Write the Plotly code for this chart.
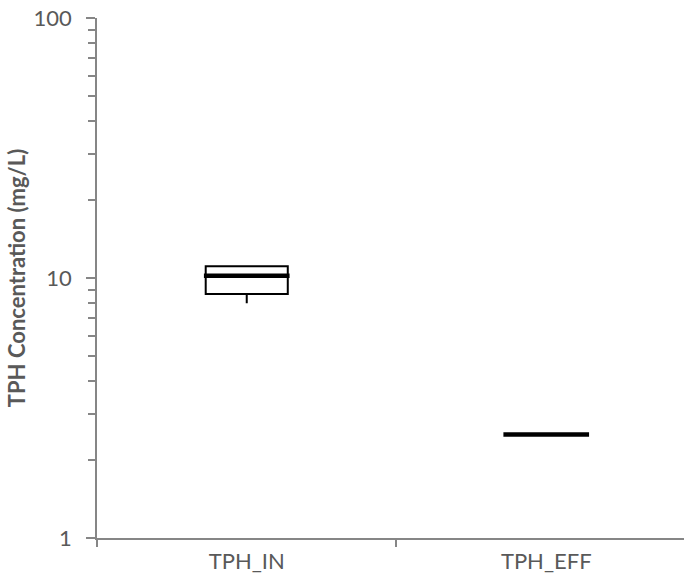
import plotly.graph_objects as go

# Summary statistics of TPH concentration (mg/L) at inlet and effluent
categories = ["TPH_IN", "TPH_EFF"]
q1_vals = [8.68, 2.5]
median_vals = [10.2, 2.5]
q3_vals = [11.1, 2.5]
low_vals = [8.0, 2.5]
high_vals = [11.1, 2.5]

axis_grey = "#868686"
text_grey = "#595959"
font_family = "Lato, 'Open Sans', sans-serif"

box_width = 0.274
median_half = 0.143

fig = go.Figure()
fig.add_trace(go.Box(
    x=categories,
    q1=q1_vals,
    median=median_vals,
    q3=q3_vals,
    lowerfence=low_vals,
    upperfence=high_vals,
    width=box_width,
    whiskerwidth=0,
    fillcolor="white",
    line=dict(color="black", width=2),
    boxpoints=False,
    showlegend=False,
    hoverinfo="skip",
))

# Heavy median bars drawn over each box
for i, m in enumerate(median_vals):
    fig.add_shape(
        type="line", xref="x", yref="y",
        x0=i - median_half, x1=i + median_half, y0=m, y1=m,
        line=dict(color="black", width=4.5), layer="above",
    )

fig.update_layout(
    width=684, height=588,
    margin=dict(l=97, r=0, t=18, b=50),
    paper_bgcolor="white", plot_bgcolor="white",
    font=dict(family=font_family, color=text_grey, size=22),
    xaxis=dict(
        type="category",
        range=[-0.5, 1.46],
        showline=True, linecolor=axis_grey, linewidth=1.5,
        ticks="outside", tickson="boundaries", ticklen=7,
        tickcolor=axis_grey, tickwidth=1.5,
        ticklabelstandoff=3,
        showgrid=False, zeroline=False,
        tickfont=dict(size=22, color=text_grey, family=font_family),
    ),
    yaxis=dict(
        type="log",
        range=[0, 2],
        tickvals=[1, 10, 100],
        ticktext=["1", "10", "100"],
        showline=True, linecolor=axis_grey, linewidth=1.5,
        ticks="outside", ticklen=9, tickcolor=axis_grey, tickwidth=1.5,
        ticklabelstandoff=10,
        minor=dict(
            tickvals=[2, 3, 4, 5, 6, 7, 8, 9, 20, 30, 40, 50, 60, 70, 80, 90],
            ticks="outside", ticklen=7, tickcolor=axis_grey, tickwidth=1.5,
            showgrid=False,
        ),
        showgrid=False, zeroline=False,
        tickfont=dict(size=22, color=text_grey, family=font_family),
        title=dict(
            text="<b>TPH Concentration (mg/L)</b>",
            font=dict(size=22, color=text_grey, family=font_family),
            standoff=2,
        ),
    ),
)

fig.write_html("out.html")
